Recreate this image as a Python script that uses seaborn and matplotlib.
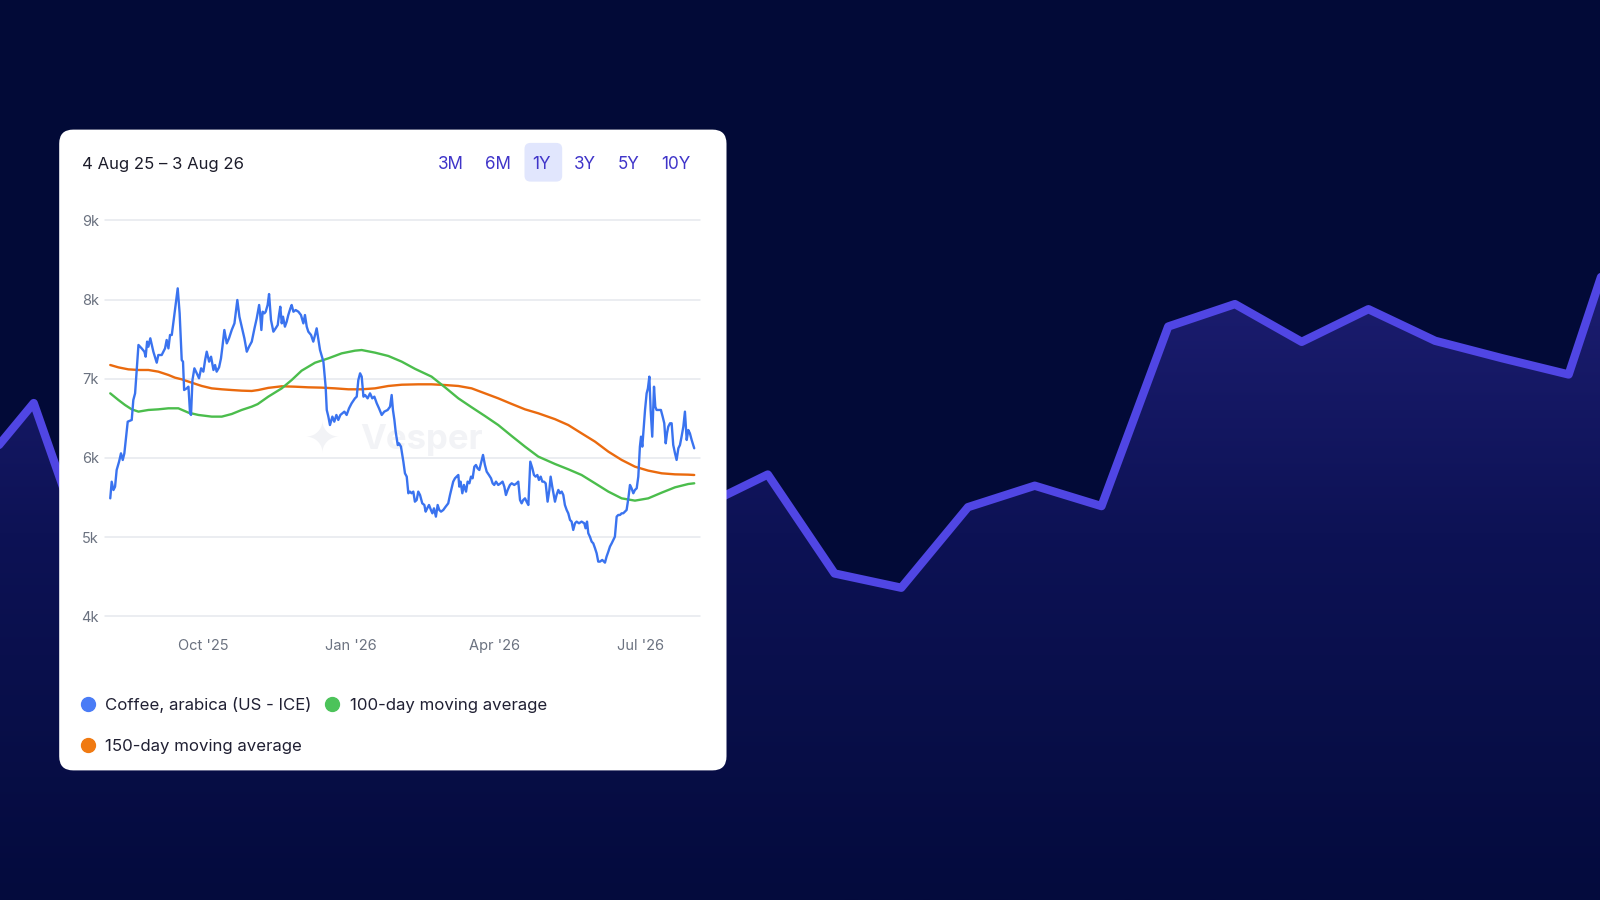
import numpy as np
import pandas as pd
import matplotlib.pyplot as plt
import seaborn as sns
from matplotlib.patches import FancyBboxPatch, Polygon
from matplotlib.colors import LinearSegmentedColormap
from matplotlib.lines import Line2D

sns.set_style("white")
plt.rcParams["font.family"] = ["Inter", "DejaVu Sans"]

# ---- data ----
start = pd.Timestamp("2025-08-04")

# coffee price: days since 4 Aug 2025, value
price_days = [
    0, 0.9, 2, 3, 4, 5.5, 6.7, 7.8, 8.8, 10.9, 13.4, 14.4, 15.5, 17.6, 19.6, 21.3, 22.1, 23, 23.8, 25,
    26.9, 29, 30, 32.1, 34.2, 35.2, 36.3, 37.3, 38.4, 40.4, 42.1, 43.3, 44.6, 45.4, 46.1, 47.7, 48.8, 49.8, 50.4, 51.3,
    52.5, 54, 55.4, 56.7, 58.1, 59.2, 60.2, 61.7, 62.9, 64.4, 65.4, 66.4, 67.9, 69.1, 70, 71.2, 72.7, 74.1, 75.8, 77.5,
    79.3, 80.6, 82, 83.7, 85.2, 86.6, 88.3, 90, 91.4, 92.9, 93.5, 94.3, 95.1, 96.2, 97, 98.2, 99.1, 100.3, 101.8, 103.2,
    104.5, 105.3, 106.1, 107, 107.8, 109, 110.1, 111.1, 112.4, 113.2, 114.3, 115.7, 117.4, 119, 120.5, 121.5, 122.6, 123.6, 125.3, 126.7,
    127.8, 128.8, 129.9, 130.9, 133, 134.4, 135.1, 136.1, 137.1, 138.6, 139.8, 141.1, 142.3, 143.6, 144.8, 146.1, 147.5, 149, 150.6, 152.7,
    153.8, 154.8, 155.9, 156.9, 158, 159, 160.6, 162.1, 163.5, 164.8, 166.3, 167.7, 169.4, 171, 173.1, 174.6, 175.6, 176.4, 177.3, 178.1,
    179.4, 180.2, 181.4, 182.9, 183.9, 185, 186, 187, 188, 189.1, 190.1, 191.2, 192.2, 193.3, 194.7, 196, 196.8, 197.8, 198.9, 200.1,
    201, 202, 203.2, 204.3, 205.3, 206.4, 207.8, 209.3, 210.9, 212, 213, 214, 215.1, 216.1, 217.2, 217.8, 218.6, 219.7, 220.7, 222,
    223, 224.1, 225.1, 226.1, 227.2, 228.2, 229.2, 230.3, 231.3, 232.6, 233.8, 234.9, 236.3, 237.6, 238.6, 239.6, 240.7, 242.1, 243.6, 244.8,
    245.9, 246.9, 248, 249.4, 250.5, 252.1, 253.6, 254.6, 255.7, 256.7, 257.7, 258.8, 259.8, 260.9, 262.1, 263.4, 264.4, 265.4, 266.5, 267.5,
    268.6, 269.6, 270.6, 271.7, 272.9, 274, 274.8, 275.8, 277.5, 278.5, 279.6, 280.6, 281.7, 282.7, 283.7, 284.8, 285.8, 286.9, 287.9, 288.9,
    290, 291, 292.5, 294.1, 295.8, 296.6, 297.5, 298.3, 299.3, 300.4, 301.4, 302.5, 303.5, 304.5, 305.6, 307, 308.7, 309.7, 310.8, 311.8,
    312.9, 313.9, 314.9, 316, 317, 318.1, 319.1, 320.1, 321.2, 322.2, 323.3, 324.3, 325.3, 326.4, 327.4, 328.5, 329.5, 330.5, 331.2, 332,
    332.8, 333.7, 334.7, 335.5, 336.4, 337.2, 338.2, 339.3, 340.1, 340.9, 342.4, 343.6, 344.7, 345.7, 346.6, 347.4, 348.2, 349.3, 350.3, 351.3,
    352.4, 353.4, 354.5, 355.5, 356.5, 357.6, 358.6, 359.7, 360.7, 361.7, 362.8, 364.4,
]
price_vals = [
    5490, 5700, 5595, 5637, 5848, 5953, 6058, 5974, 6058, 6458, 6480, 6732, 6816, 7427, 7384, 7342, 7279, 7469, 7405, 7511,
    7342, 7203, 7300, 7300, 7384, 7490, 7384, 7553, 7553, 7868, 8142, 7826, 7237, 7216, 6858, 6879, 6900, 6564, 6543, 6984,
    7132, 7069, 7006, 7132, 7090, 7237, 7342, 7216, 7279, 7111, 7174, 7090, 7144, 7258, 7405, 7616, 7447, 7511, 7616, 7700,
    7995, 7784, 7658, 7511, 7342, 7405, 7469, 7637, 7763, 7932, 7826, 7616, 7847, 7826, 7847, 7932, 8070, 7742, 7595, 7637,
    7679, 7805, 7910, 7700, 7784, 7658, 7721, 7805, 7889, 7932, 7847, 7868, 7847, 7805, 7700, 7805, 7658, 7595, 7553, 7469,
    7553, 7637, 7490, 7363, 7216, 6900, 6606, 6522, 6416, 6522, 6458, 6543, 6480, 6543, 6564, 6585, 6543, 6627, 6690, 6753,
    6774, 6984, 7069, 7027, 6774, 6795, 6753, 6816, 6753, 6774, 6690, 6627, 6543, 6585, 6606, 6648, 6795, 6606, 6480, 6332,
    6163, 6184, 6143, 5953, 5806, 5764, 5554, 5575, 5554, 5575, 5448, 5469, 5575, 5532, 5427, 5406, 5322, 5364, 5406, 5343,
    5301, 5364, 5259, 5406, 5343, 5322, 5343, 5385, 5427, 5532, 5617, 5701, 5743, 5764, 5785, 5638, 5701, 5554, 5659, 5575,
    5701, 5680, 5764, 5743, 5890, 5911, 5869, 5848, 5932, 6038, 5911, 5827, 5785, 5743, 5680, 5659, 5701, 5659, 5680, 5701,
    5638, 5532, 5596, 5659, 5680, 5659, 5680, 5701, 5469, 5427, 5469, 5490, 5448, 5406, 5953, 5869, 5785, 5764, 5785, 5722,
    5764, 5701, 5701, 5680, 5448, 5596, 5764, 5638, 5448, 5532, 5596, 5554, 5575, 5532, 5406, 5343, 5301, 5217, 5196, 5091,
    5175, 5196, 5175, 5196, 5175, 5112, 5196, 5049, 5006, 4943, 4922, 4859, 4796, 4691, 4691, 4712, 4678, 4754, 4817, 4880,
    4922, 4964, 5006, 5259, 5280, 5280, 5301, 5301, 5322, 5343, 5490, 5659, 5617, 5554, 5596, 5617, 5764, 6143, 6269, 6143,
    6353, 6606, 6816, 6879, 7027, 6606, 6269, 6900, 6648, 6606, 6606, 6606, 6522, 6438, 6185, 6311, 6395, 6438, 6438, 6164,
    6059, 5975, 6122, 6164, 6269, 6395, 6585, 6227, 6353, 6311, 6227, 6122,
]

ma100_days = [
    0, 5.1, 9.2, 13.4, 17.6, 23.8, 30, 36.3, 42.5, 48.8, 55, 63.3, 69.6, 75.8, 82, 88.3, 92, 98.6, 107, 113.2,
    119.4, 127.8, 136.1, 144.4, 152.7, 156.9, 165.2, 173.5, 181.9, 190.2, 200.5, 208.9, 217.2, 225.5, 233.8, 242.1,
    250.5, 258.8, 267.1, 277.5, 285.8, 294.1, 302.5, 310.8, 319.1, 327.4, 335.7, 344.1, 352.4, 360.7, 364.4,
]
ma100_vals = [
    6816, 6732, 6669, 6614, 6585, 6606, 6614, 6627, 6627, 6572, 6543, 6522, 6522, 6555, 6606, 6648, 6680, 6774, 6879, 6984,
    7102, 7203, 7258, 7321, 7355, 7363, 7330, 7288, 7216, 7125, 7027, 6892, 6753, 6640, 6530, 6416,
    6277, 6143, 6017, 5924, 5857, 5785, 5680, 5575, 5490, 5461, 5490, 5562, 5629, 5671, 5680,
]

ma150_days = [
    0, 5.1, 11.3, 17.6, 23.8, 30, 36.3, 40.4, 44.6, 50.8, 57.1, 63.3, 69.6, 75.8, 82, 88.3, 92.4, 98.6, 107, 115.3,
    123.6, 132, 140.3, 148.6, 156.9, 165.2, 173.5, 181.9, 192.2, 200.5, 208.9, 217.2, 225.5, 233.8, 242.1, 250.5,
    258.8, 267.1, 277.5, 285.8, 294.1, 302.5, 310.8, 319.1, 327.4, 335.7, 344.1, 352.4, 360.7, 364.4,
]
ma150_vals = [
    7174, 7144, 7119, 7111, 7111, 7090, 7048, 7014, 6993, 6951, 6909, 6879, 6867, 6858, 6850, 6846, 6858, 6885, 6905, 6900,
    6892, 6888, 6879, 6867, 6867, 6879, 6909, 6925, 6930, 6930, 6921, 6909, 6879, 6816, 6753, 6682,
    6614, 6564, 6490, 6416, 6311, 6206, 6080, 5975, 5890, 5840, 5806, 5793, 5789, 5785,
]

y_ticks = [4000, 5000, 6000, 7000, 8000, 9000]
y_labels = ["4k", "5k", "6k", "7k", "8k", "9k"]
x_ticks = ["2025-10-01", "2026-01-01", "2026-04-01", "2026-07-01"]
x_labels = ["Oct '25", "Jan '26", "Apr '26", "Jul '26"]
ranges = ["3M", "6M", "1Y", "3Y", "5Y", "10Y"]

# decorative backdrop line
bg_idx = list(range(-1, 25))
bg_vals = [408, 487, 300, 380, 350, 420, 330, 400, 360, 430, 390, 385, 417, 320, 306,
           385, 406, 386, 562, 584, 547, 579, 548, 531, 515, 712]


def to_dates(days):
    return start + pd.to_timedelta(days, unit="D")


BG = "#020a37"
fig = plt.figure(figsize=(16, 9), dpi=100, facecolor=BG)

# ---- backdrop area chart ----
ax_bg = fig.add_axes([0, 0, 1, 1], zorder=0)
ax_bg.set_facecolor(BG)
verts = list(zip(bg_idx, bg_vals)) + [(bg_idx[-1], 0), (bg_idx[0], 0)]
poly = Polygon(verts, closed=True, facecolor="none", edgecolor="none")
ax_bg.add_patch(poly)
grad = np.linspace(0, 1, 256).reshape(-1, 1)
cmap = LinearSegmentedColormap.from_list("fill", ["#040b3d", "#0d1255", "#22227c"])
im = ax_bg.imshow(grad, cmap=cmap, origin="lower", extent=[-1, 24, 0, 720], aspect="auto", zorder=1)
im.set_clip_path(poly)
sns.lineplot(x=bg_idx, y=bg_vals, ax=ax_bg, color="#5046e4", lw=6, zorder=2)
ax_bg.set_xlim(-0.505, 23.47)
ax_bg.set_ylim(0, 882)
ax_bg.axis("off")

# ---- card (pixel coordinates) ----
ax_card = fig.add_axes([0, 0, 1, 1], zorder=1)
ax_card.set_xlim(0, 1600)
ax_card.set_ylim(0, 900)
ax_card.axis("off")
ax_card.patch.set_alpha(0)
ax_card.add_patch(FancyBboxPatch((59.2, 129.6), 667.3, 640.8,
                                 boxstyle="round,pad=0,rounding_size=14",
                                 facecolor="white", edgecolor="none"))
ax_card.add_patch(FancyBboxPatch((524.5, 718.4), 37.7, 38.7,
                                 boxstyle="round,pad=0,rounding_size=6",
                                 facecolor="#e1e6fd", edgecolor="none"))
# watermark
ax_card.text(322, 460, "\u2726", fontsize=30, color="#f2f3f6", ha="center", va="center",
             family=["DejaVu Sans"])
ax_card.text(360, 460, "Vesper", fontsize=25, color="#f2f3f6", ha="left", va="center",
             fontweight="bold")

# ---- main chart ----
ax = fig.add_axes([0.0657, 0.3152, 0.3718, 0.4399], zorder=2)
ax.set_facecolor("none")
sns.lineplot(x=to_dates(ma150_days), y=ma150_vals, ax=ax, color="#ea6a0e", lw=1.7)
sns.lineplot(x=to_dates(ma100_days), y=ma100_vals, ax=ax, color="#4bbd4c", lw=1.7)
sns.lineplot(x=to_dates(price_days), y=price_vals, ax=ax, color="#3a73ef", lw=1.7)
ax.set_xlim(start - pd.Timedelta(days=3.2), start + pd.Timedelta(days=368))
ax.set_ylim(4000, 9000)
ax.set_yticks(y_ticks, y_labels)
ax.set_xticks(pd.to_datetime(x_ticks), x_labels)
ax.yaxis.grid(True, color="#e6e8ee", lw=1.1)
ax.xaxis.grid(False)
for gl in ax.get_ygridlines():
    gl.set_clip_on(False)
ax.set_axisbelow(True)
for s in ax.spines.values():
    s.set_visible(False)
ax.tick_params(axis="y", length=0, pad=4.5, labelsize=10.5, labelcolor="#6b7280")
ax.tick_params(axis="x", length=0, pad=16, labelsize=10.5, labelcolor="#6b7280")
ax.set_xlabel("")
ax.set_ylabel("")

# ---- header ----
fig.text(0.0510, 0.8175, "4 Aug 25 \u2013 3 Aug 26", fontsize=12.0, color="#1c1c2a",
         ha="left", va="center", zorder=5)
for lab, xc in zip(ranges, [0.2819, 0.3112, 0.3387, 0.3654, 0.3929, 0.4222]):
    fig.text(xc, 0.8175, lab, fontsize=12.3, color="#4035c9", ha="center", va="center", zorder=5)

# ---- legend ----
handles = [
    Line2D([], [], marker="o", ls="", markersize=10, color="#4a7cf6", label="Coffee, arabica (US - ICE)"),
    Line2D([], [], marker="o", ls="", markersize=10, color="#f07a12", label="150-day moving average"),
    Line2D([], [], marker="o", ls="", markersize=10, color="#4cc35a", label="100-day moving average"),
]
leg = fig.legend(handles=handles, ncol=2, loc="upper left", bbox_to_anchor=(0.0507, 0.226),
                 frameon=False, fontsize=12.1, handlelength=0.8, handletextpad=0.62,
                 columnspacing=0.85, labelspacing=1.55, borderpad=0, borderaxespad=0)
for t in leg.get_texts():
    t.set_color("#202033")
leg.set_zorder(5)

fig.savefig("out.png", dpi=100, facecolor=BG)
